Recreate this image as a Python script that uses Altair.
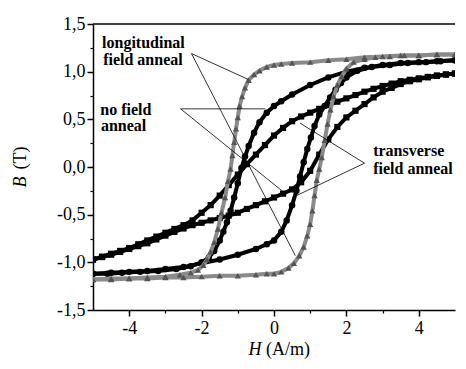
import altair as alt
import pandas as pd

# ---- longitudinal field anneal (triangles) ----
lon_down_x = [5, 4.5, 4, 3.5, 3, 2.5, 2, 1.5, 1, 0.5, 0.2, 0, -0.2, -0.4, -0.55, -0.7, -0.8, -0.88, -0.95, -1.0,
              -1.05, -1.1, -1.15, -1.2, -1.27, -1.35, -1.45, -1.55, -1.65, -1.75, -1.85, -1.95, -2.1, -2.3, -2.6,
              -3, -3.5, -4, -4.5, -5]
lon_down_y = [1.18, 1.18, 1.17, 1.17, 1.16, 1.15, 1.13, 1.12, 1.10, 1.09, 1.08, 1.07, 1.05, 1.01, 0.97, 0.91, 0.83,
              0.74, 0.64, 0.52, 0.40, 0.26, 0.12, -0.02, -0.15, -0.32, -0.48, -0.65, -0.79, -0.89, -0.97, -1.03,
              -1.08, -1.11, -1.13, -1.15, -1.16, -1.17, -1.17, -1.18]
lon_up_x = [-5, -4.5, -4, -3.5, -3, -2.5, -2, -1.5, -1, -0.5, -0.2, 0, 0.2, 0.4, 0.55, 0.7, 0.82, 0.92, 1.0, 1.06,
            1.12, 1.18, 1.25, 1.32, 1.4, 1.48, 1.56, 1.65, 1.75, 1.87, 2.0, 2.2, 2.5, 2.8, 3.2, 3.6, 4, 4.5, 5]
lon_up_y = [-1.18, -1.18, -1.17, -1.17, -1.16, -1.16, -1.15, -1.14, -1.14, -1.13, -1.12, -1.12, -1.10, -1.06, -1.01,
            -0.93, -0.84, -0.72, -0.60, -0.46, -0.30, -0.14, -0.02, 0.10, 0.28, 0.45, 0.60, 0.74, 0.86, 0.95, 1.03,
            1.10, 1.13, 1.15, 1.16, 1.17, 1.17, 1.18, 1.18]

# ---- no field anneal (circles) ----
nf_down_x = [5, 4.5, 4, 3.5, 3, 2.5, 2, 1.5, 1, 0.5, 0.2, 0, -0.2, -0.4, -0.55, -0.7, -0.8, -0.9, -1.0, -1.1, -1.2,
             -1.3, -1.4, -1.5, -1.65, -1.8, -2.0, -2.3, -2.7, -3.2, -3.7, -4.2, -4.6, -5]
nf_down_y = [1.12, 1.11, 1.10, 1.09, 1.07, 1.04, 1.00, 0.94, 0.86, 0.76, 0.69, 0.64, 0.57, 0.47, 0.36, 0.22, 0.11,
             -0.01, -0.17, -0.32, -0.46, -0.58, -0.68, -0.77, -0.88, -0.95, -1.00, -1.04, -1.07, -1.09, -1.10,
             -1.11, -1.12, -1.12]
nf_up_x = [-5, -4.5, -4, -3.5, -3, -2.5, -2, -1.5, -1, -0.5, -0.2, 0, 0.2, 0.35, 0.5, 0.62, 0.72, 0.82, 0.92, 1.02,
           1.12, 1.25, 1.4, 1.55, 1.7, 1.85, 2.0, 2.3, 2.7, 3.2, 3.7, 4.2, 4.6, 5]
nf_up_y = [-1.12, -1.11, -1.10, -1.09, -1.07, -1.05, -1.01, -0.97, -0.92, -0.86, -0.81, -0.77, -0.68, -0.56, -0.40,
           -0.25, -0.10, 0.05, 0.19, 0.31, 0.43, 0.55, 0.64, 0.73, 0.81, 0.88, 0.94, 1.01, 1.05, 1.07, 1.09, 1.10,
           1.11, 1.12]

# ---- transverse field anneal (squares) ----
tr_down_x = [5, 4.75, 4.5, 4.25, 4, 3.75, 3.5, 3.25, 3, 2.75, 2.5, 2.25, 2, 1.75, 1.5, 1.25, 1, 0.75, 0.5, 0.25, 0,
             -0.25, -0.5, -0.75, -1, -1.25, -1.5, -1.75, -2, -2.25, -2.5, -2.75, -3, -3.25, -3.5, -3.75, -4, -4.25,
             -4.5, -4.75, -5]
tr_down_y = [0.98, 0.97, 0.96, 0.945, 0.93, 0.915, 0.90, 0.875, 0.85, 0.82, 0.79, 0.755, 0.72, 0.685, 0.65, 0.61,
             0.57, 0.53, 0.48, 0.41, 0.33, 0.23, 0.13, 0.03, -0.08, -0.19, -0.30, -0.40, -0.48, -0.56, -0.61, -0.65,
             -0.69, -0.73, -0.77, -0.81, -0.85, -0.88, -0.91, -0.94, -0.97]
tr_up_x = [-5, -4.75, -4.5, -4.25, -4, -3.75, -3.5, -3.25, -3, -2.75, -2.5, -2.25, -2, -1.75, -1.5, -1.25, -1, -0.75,
           -0.5, -0.25, 0, 0.25, 0.5, 0.75, 1, 1.25, 1.5, 1.75, 2, 2.25, 2.5, 2.75, 3, 3.25, 3.5, 3.75, 4, 4.25, 4.5,
           4.75, 5]
tr_up_y = [-0.97, -0.945, -0.92, -0.89, -0.86, -0.83, -0.80, -0.76, -0.72, -0.68, -0.645, -0.61, -0.585, -0.56,
           -0.535, -0.51, -0.48, -0.44, -0.40, -0.36, -0.32, -0.28, -0.235, -0.16, -0.04, 0.13, 0.29, 0.42, 0.52,
           0.59, 0.66, 0.73, 0.79, 0.83, 0.87, 0.90, 0.92, 0.94, 0.955, 0.97, 0.98]

# ---- annotations ----
label_text = ["longitudinal", "field anneal", "no field", "anneal", "transverse", "field anneal"]
label_h = [-4.75, -4.72, -4.8, -4.78, 2.74, 2.74]
label_b = [1.245, 1.075, 0.55, 0.375, 0.115, -0.075]

lead_h1 = [-2.28, -2.28, -2.58, -2.58, 2.5, 2.5]
lead_b1 = [1.19, 1.19, 0.61, 0.61, 0.04, 0.04]
lead_h2 = [-0.72, 0.59, -0.24, 0.32, 0.72, 0.51]
lead_b2 = [0.92, -0.93, 0.61, -0.28, 0.46, -0.32]

y_major = [-1.5, -1.0, -0.5, 0.0, 0.5, 1.0, 1.5]
y_minor = [-1.25, -0.75, -0.25, 0.25, 0.75, 1.25]
x_major = [-4, -2, 0, 2, 4]
x_minor = [-3, -1, 1, 3]


def branch(name, br, xs, ys):
    assert len(xs) == len(ys), (name, br, len(xs), len(ys))
    return pd.DataFrame({"series": name, "branch": br, "order": range(len(xs)), "H": xs, "B": ys})


curves = pd.concat([
    branch("tr", "down", tr_down_x, tr_down_y),
    branch("tr", "up", tr_up_x, tr_up_y),
    branch("nf", "down", nf_down_x, nf_down_y),
    branch("nf", "up", nf_up_x, nf_up_y),
    branch("lon", "down", lon_down_x, lon_down_y),
    branch("lon", "up", lon_up_x, lon_up_y),
], ignore_index=True)
curves["key"] = curves["series"] + "_" + curves["branch"]

labels = pd.DataFrame({"H": label_h, "B": label_b, "text": label_text})
leads = pd.DataFrame({"H": lead_h1, "B": lead_b1, "H2": lead_h2, "B2": lead_b2})

FONT = "Liberation Serif"
W, Ht = 362, 286

xs = alt.Scale(domain=[-5, 5], nice=False, zero=False)
ys = alt.Scale(domain=[-1.5, 1.5], nice=False, zero=False)

x_lab = "(datum.value < 0 ? '-' : '') + format(abs(datum.value), 'd')"
y_lab = "(datum.value < 0 ? '-' : '') + replace(format(abs(datum.value), '.1f'), '.', ',')"

x_axis = alt.Axis(values=x_major, labelExpr=x_lab, title=None, orient="bottom", grid=False,
                  labelFont=FONT, labelFontSize=18, labelColor="black", labelPadding=3,
                  domainColor="black", domainWidth=1.5, tickColor="black", tickWidth=1.5, tickSize=6)
y_axis = alt.Axis(values=y_major, labelExpr=y_lab, title=None, orient="left", grid=False,
                  labelFont=FONT, labelFontSize=18, labelColor="black", labelPadding=2,
                  domainColor="black", domainWidth=1.5, tickColor="black", tickWidth=1.5, tickSize=6)
x_axis_min = alt.Axis(values=x_minor, labels=False, title=None, orient="bottom", grid=False, domain=False,
                      tickColor="black", tickWidth=1.2, tickSize=3)
y_axis_min = alt.Axis(values=y_minor, labels=False, title=None, orient="left", grid=False, domain=False,
                      tickColor="black", tickWidth=1.2, tickSize=3)

base = alt.Chart(curves)


def series_layers(key, shape, color, line_color, size, with_axes=False):
    d = base.transform_filter(alt.datum.series == key)
    line = d.mark_line(color=line_color, strokeWidth=4, clip=True).encode(
        x=alt.X("H:Q", scale=xs, axis=x_axis if with_axes else None),
        y=alt.Y("B:Q", scale=ys, axis=y_axis if with_axes else None),
        detail="key:N", order="order:Q")
    pts = d.mark_point(shape=shape, filled=True, color=color, size=size, opacity=1, clip=True).encode(
        x=alt.X("H:Q", scale=xs, axis=None), y=alt.Y("B:Q", scale=ys, axis=None))
    return [line, pts]


layers = []
layers += series_layers("tr", "square", "black", "black", 38, with_axes=True)
layers += series_layers("nf", "circle", "black", "black", 42)
layers += series_layers("lon", "triangle-up", "#555555", "#8a8a8a", 40)

lead_layer = alt.Chart(leads).mark_rule(color="black", strokeWidth=0.8).encode(
    x=alt.X("H:Q", scale=xs, axis=None), y=alt.Y("B:Q", scale=ys, axis=None), x2="H2:Q", y2="B2:Q")

label_layer = alt.Chart(labels).mark_text(align="left", baseline="alphabetic", font=FONT,
                                          fontWeight="bold", fontSize=16, color="black").encode(
    x=alt.X("H:Q", scale=xs, axis=None), y=alt.Y("B:Q", scale=ys, axis=None), text="text:N")

frame = alt.Chart(pd.DataFrame({"H": [-5], "H2": [5], "B": [1.5]})).mark_rule(
    color="black", strokeWidth=1.5).encode(
    x=alt.X("H:Q", scale=xs, axis=x_axis_min), x2="H2:Q",
    y=alt.Y("B:Q", scale=ys, axis=y_axis_min))

title_df = pd.DataFrame({"a": [0]})
xt_h = alt.Chart(title_df).mark_text(font=FONT, fontSize=18, fontStyle="italic", align="center",
                                     baseline="alphabetic", color="black").encode(
    x=alt.value(W / 2 - 19), y=alt.value(Ht + 45), text=alt.value("H"))
xt_u = alt.Chart(title_df).mark_text(font=FONT, fontSize=18, align="center",
                                     baseline="alphabetic", color="black").encode(
    x=alt.value(W / 2 + 14), y=alt.value(Ht + 45), text=alt.value("(A/m)"))
yt_b = alt.Chart(title_df).mark_text(font=FONT, fontSize=18, fontStyle="italic", align="center",
                                     baseline="middle", angle=270, color="black").encode(
    x=alt.value(-72), y=alt.value(Ht / 2 + 15), text=alt.value("B"))
yt_u = alt.Chart(title_df).mark_text(font=FONT, fontSize=18, align="center",
                                     baseline="middle", angle=270, color="black").encode(
    x=alt.value(-72), y=alt.value(Ht / 2 - 9), text=alt.value("(T)"))

chart = alt.layer(*layers, lead_layer, label_layer, frame, xt_h, xt_u, yt_b, yt_u).resolve_axis(
    x="independent", y="independent"
).properties(
    width=W, height=Ht, padding={"left": 4, "top": 7, "right": 0, "bottom": 0}, background="white"
).configure_view(stroke=None)

chart.save("out.html", embed_options={"renderer": "svg", "actions": False})
